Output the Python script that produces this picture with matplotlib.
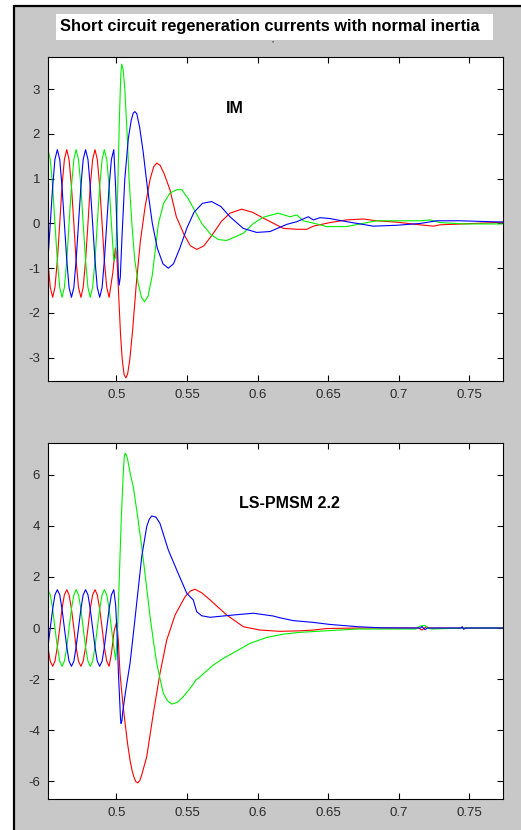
import matplotlib
matplotlib.use('Agg')
import matplotlib.pyplot as plt
from matplotlib.patches import Rectangle

plt.rcParams['font.family'] = ['Liberation Sans', 'DejaVu Sans']
plt.rcParams['axes.unicode_minus'] = False

titleText = 'Short circuit regeneration currents with normal inertia'
panelLabels = ['IM', 'LS-PMSM 2.2']
xTicks = [0.5, 0.55, 0.6, 0.65, 0.7, 0.75]
xTickLabels = ['0.5', '0.55', '0.6', '0.65', '0.7', '0.75']
imYTicks = [-3, -2, -1, 0, 1, 2, 3]
pmsmYTicks = [-6, -4, -2, 0, 2, 4, 6]

# steady state before the fault, read every 1/12 of a 50 Hz period
preTimes = [0.4515, 0.4532, 0.4549, 0.4565, 0.4582, 0.4599, 0.4615, 0.4632, 0.4649, 0.4665,
            0.4682, 0.4699, 0.4715, 0.4732, 0.4749, 0.4765, 0.4782, 0.4799, 0.4815, 0.4832,
            0.4849, 0.4865, 0.4882, 0.4899, 0.4915, 0.4932, 0.4949, 0.4965, 0.4982]

# ---- IM ----
imRedPre = [-0.83, -1.43, -1.65, -1.43, -0.83, 0, 0.83, 1.43, 1.65, 1.43, 0.83, 0,
            -0.83, -1.43, -1.65, -1.43, -0.83, 0, 0.83, 1.43, 1.65, 1.43, 0.83, 0,
            -0.83, -1.43, -1.65]
imGreenPre = [1.65, 1.43, 0.83, 0, -0.83, -1.43, -1.65, -1.43, -0.83, 0, 0.83, 1.43,
              1.65, 1.43, 0.83, 0, -0.83, -1.43, -1.65, -1.43, -0.83, 0, 0.83, 1.43,
              1.65, 1.43, 0.83, 0, -0.83]
imBluePre = [-0.83, 0, 0.83, 1.43, 1.65, 1.43, 0.83, 0, -0.83, -1.43, -1.65, -1.43,
             -0.83, 0, 0.83, 1.43, 1.65, 1.43, 0.83, 0, -0.83, -1.43, -1.65, -1.43,
             -0.83, 0, 0.83, 1.43, 1.65]

imRedPostTime = [0.4975, 0.4993, 0.5003, 0.5015, 0.503, 0.5042, 0.5055, 0.5068, 0.508, 0.5095,
                 0.5115, 0.514, 0.517, 0.5205, 0.524, 0.5265, 0.5286, 0.531, 0.534, 0.538,
                 0.5425, 0.548, 0.5525, 0.557, 0.562, 0.568, 0.5745, 0.5805, 0.5888, 0.5965,
                 0.6041, 0.6183, 0.6278, 0.6349, 0.6395, 0.6513, 0.6632, 0.675, 0.6844, 0.6986,
                 0.7151, 0.7245, 0.7293, 0.7458, 0.775]
imRedPost = [-1.1, -0.55, -0.7, -1.5, -2.5, -3.05, -3.38, -3.45, -3.36, -3.05,
             -2.4, -1.4, -0.4, 0.4, 1.0, 1.27, 1.35, 1.3, 1.1, 0.75,
             0.15, -0.25, -0.5, -0.58, -0.5, -0.25, 0.05, 0.23, 0.32, 0.25,
             0.12, -0.11, -0.13, -0.13, -0.06, 0.02, 0.08, 0.1, 0.06, 0.03,
             -0.03, -0.06, -0.03, -0.01, 0.03]

imGreenPostTime = [0.4996, 0.501, 0.5022, 0.5032, 0.5038, 0.5048, 0.506, 0.5075, 0.509, 0.511,
                   0.513, 0.5155, 0.5178, 0.52, 0.5225, 0.5255, 0.5298, 0.5335, 0.538, 0.5425,
                   0.5463, 0.551, 0.5605, 0.567, 0.5725, 0.578, 0.5805, 0.5899, 0.597, 0.6041,
                   0.6147, 0.623, 0.6278, 0.6324, 0.6419, 0.649, 0.6632, 0.6726, 0.6844, 0.7151,
                   0.7222, 0.7293, 0.7458, 0.775]
imGreenPost = [-0.75, 0.8, 2.4, 3.35, 3.56, 3.45, 3.0, 2.1, 1.0, 0.0,
               -0.8, -1.35, -1.65, -1.75, -1.62, -1.15, 0.0, 0.45, 0.68, 0.75,
               0.76, 0.55, 0.0, -0.25, -0.36, -0.38, -0.35, -0.22, 0.0, 0.14,
               0.23, 0.15, 0.19, 0.06, -0.01, -0.07, -0.07, -0.01, 0.06, 0.06,
               0.08, 0.02, -0.01, -0.01]

imBluePostTime = [0.4995, 0.5008, 0.5015, 0.502, 0.5028, 0.504, 0.506, 0.5085, 0.5105, 0.512,
                  0.5132, 0.5145, 0.5165, 0.519, 0.522, 0.5255, 0.529, 0.533, 0.5368, 0.5405,
                  0.545, 0.55, 0.555, 0.561, 0.5675, 0.574, 0.5805, 0.5899, 0.5994, 0.6089,
                  0.6207, 0.6278, 0.636, 0.6395, 0.6443, 0.6513, 0.6632, 0.682, 0.6986, 0.7151,
                  0.7269, 0.7434, 0.775]
imBluePost = [0.8, -0.5, -1.2, -1.38, -1.2, -0.3, 1.0, 1.9, 2.3, 2.47,
              2.5, 2.45, 2.15, 1.6, 0.8, 0.0, -0.55, -0.9, -1.0, -0.9,
              -0.55, -0.1, 0.25, 0.45, 0.49, 0.38, 0.15, -0.11, -0.2, -0.18,
              -0.02, 0.04, 0.15, 0.08, 0.13, 0.11, 0.04, -0.06, -0.04, 0.0,
              0.06, 0.06, 0.03]

# ---- LS-PMSM 2.2 ----
pmsmRedPre = [-0.75, -1.3, -1.5, -1.3, -0.75, 0, 0.75, 1.3, 1.5, 1.3, 0.75, 0,
              -0.75, -1.3, -1.5, -1.3, -0.75, 0, 0.75, 1.3, 1.5, 1.3, 0.75, 0,
              -0.75, -1.3, -1.5]
pmsmGreenPre = [1.5, 1.3, 0.75, 0, -0.75, -1.3, -1.5, -1.3, -0.75, 0, 0.75, 1.3,
                1.5, 1.3, 0.75, 0, -0.75, -1.3, -1.5, -1.3, -0.75, 0, 0.75, 1.3,
                1.5, 1.3, 0.75, 0, -0.75]
pmsmBluePre = [-0.75, 0, 0.75, 1.3, 1.5, 1.3, 0.75, 0, -0.75, -1.3, -1.5, -1.3,
               -0.75, 0, 0.75, 1.3, 1.5, 1.3, 0.75, 0, -0.75, -1.3, -1.5, -1.3,
               -0.75, 0, 0.75, 1.3, 1.5]

pmsmRedPostTime = [0.4965, 0.4985, 0.5003, 0.5014, 0.5026, 0.5045, 0.5062, 0.508, 0.5097, 0.5112,
                   0.5125, 0.5138, 0.5152, 0.5166, 0.518, 0.5215, 0.5262, 0.5309, 0.5357, 0.5416,
                   0.5487, 0.5525, 0.5557, 0.5605, 0.5664, 0.5782, 0.59, 0.6018, 0.6159, 0.630,
                   0.6395, 0.649, 0.6714, 0.714, 0.7165, 0.7195, 0.722, 0.775]
pmsmRedPost = [-1.0, -0.1, 0.25, -0.47, -1.78, -2.9, -3.73, -4.55, -5.18, -5.6,
               -5.85, -6.02, -6.07, -5.98, -5.75, -5.05, -3.35, -1.78, -0.47, 0.51,
               1.23, 1.45, 1.52, 1.38, 1.1, 0.51, 0.05, -0.08, -0.13, -0.11,
               -0.08, -0.02, 0.0, 0.0, -0.08, 0.05, 0.0, 0.0]

pmsmGreenPostTime = [0.4996, 0.5008, 0.502, 0.5035, 0.505, 0.5056, 0.5062, 0.507, 0.508, 0.51,
                     0.512, 0.515, 0.518, 0.521, 0.5239, 0.5265, 0.5286, 0.531, 0.5333, 0.5362,
                     0.5392, 0.543, 0.5474, 0.551, 0.5545, 0.5565, 0.5581, 0.563, 0.5687, 0.5755,
                     0.5829, 0.5947, 0.6065, 0.6183, 0.630, 0.6513, 0.6714, 0.6939, 0.712, 0.7155,
                     0.7185, 0.7215, 0.724, 0.745, 0.775]
pmsmGreenPost = [-1.25, -0.2, 1.8, 4.3, 6.2, 6.7, 6.85, 6.8, 6.6, 6.0,
                 5.54, 4.4, 3.19, 1.8, 0.44, -0.6, -1.38, -2.0, -2.56, -2.85,
                 -2.98, -2.92, -2.69, -2.45, -2.2, -2.02, -1.97, -1.72, -1.45, -1.2,
                 -0.97, -0.6, -0.37, -0.24, -0.17, -0.1, -0.04, -0.04, -0.04, 0.08,
                 0.1, -0.02, -0.04, 0.0, 0.0]

pmsmBluePostTime = [0.4995, 0.5005, 0.5015, 0.5025, 0.5029, 0.5033, 0.5039, 0.5045, 0.5065, 0.5097,
                    0.5125, 0.5144, 0.518, 0.5215, 0.5232, 0.525, 0.528, 0.5309, 0.5368, 0.5428,
                    0.5499, 0.5545, 0.5569, 0.5605, 0.5664, 0.5829, 0.597, 0.6112, 0.6159, 0.6254,
                    0.6395, 0.6513, 0.6714, 0.6868, 0.7155, 0.7165, 0.7185, 0.7205, 0.744, 0.745,
                    0.746, 0.7475, 0.775]
pmsmBluePost = [0.9, -0.2, -1.8, -3.0, -3.5, -3.74, -3.65, -3.3, -2.5, -1.38,
                0.0, 0.97, 2.8, 3.97, 4.25, 4.39, 4.35, 4.1, 3.06, 2.27,
                1.36, 1.1, 0.64, 0.48, 0.42, 0.51, 0.58, 0.47, 0.4, 0.29,
                0.22, 0.14, 0.05, 0.01, 0.0, 0.06, -0.06, 0.0, 0.0, 0.05,
                -0.05, 0.0, 0.0]


def drawPhases(ax, redTime, red, greenTime, green, blueTime, blue):
    ax.plot(redTime, red, color='#ff0000', lw=0.8)
    ax.plot(greenTime, green, color='#00f000', lw=0.8)
    ax.plot(blueTime, blue, color='#0000ff', lw=0.8)


def styleAxes(ax, yTicks, yLim):
    ax.set_xlim(0.4518, 0.7739)
    ax.set_ylim(*yLim)
    ax.set_xticks(xTicks)
    ax.set_xticklabels(xTickLabels)
    ax.set_yticks(yTicks)
    ax.tick_params(direction='in', length=4, width=0.8, top=True, right=True,
                   labelsize=9.5, labelcolor='#2a2a2a', pad=6)
    for spine in ax.spines.values():
        spine.set_linewidth(0.8)
        spine.set_color('black')


def main():
    figure = plt.figure(figsize=(5.21, 8.30), dpi=100, facecolor='white')
    background = Rectangle((14 / 521, -0.01), 1.0, 1 - 6 / 830 + 0.01,
                           transform=figure.transFigure, facecolor='#c8c8c8',
                           edgecolor='black', linewidth=1.6, zorder=-5)
    figure.add_artist(background)
    titleBox = Rectangle((56 / 521, 1 - 40 / 830), 437 / 521, 26 / 830,
                         transform=figure.transFigure, facecolor='white',
                         edgecolor='none', zorder=-4)
    figure.add_artist(titleBox)
    figure.text(270 / 521, 1 - 27 / 830, titleText, ha='center', va='center',
                fontsize=11.8, fontweight='bold', color='black')
    figure.text(273 / 521, 1 - 44 / 830, "''", ha='center', va='center', fontsize=6, color='#444444')

    axIM = figure.add_axes([48.3 / 521, 1 - 381 / 830, 454.7 / 521, 324 / 830])
    drawPhases(axIM, preTimes[:27] + imRedPostTime, imRedPre + imRedPost,
               preTimes + imGreenPostTime, imGreenPre + imGreenPost,
               preTimes + imBluePostTime, imBluePre + imBluePost)
    styleAxes(axIM, imYTicks, (-3.52, 3.72))
    axIM.text(0.5841, 2.58, panelLabels[0], ha='center', va='center', fontsize=11.5, fontweight='bold')

    axPMSM = figure.add_axes([48.3 / 521, 1 - 799 / 830, 454.7 / 521, 356 / 830])
    drawPhases(axPMSM, preTimes[:27] + pmsmRedPostTime, pmsmRedPre + pmsmRedPost,
               preTimes + pmsmGreenPostTime, pmsmGreenPre + pmsmGreenPost,
               preTimes + pmsmBluePostTime, pmsmBluePre + pmsmBluePost)
    styleAxes(axPMSM, pmsmYTicks, (-6.7, 7.25))
    axPMSM.text(0.6229, 4.86, panelLabels[1], ha='center', va='center', fontsize=11.5, fontweight='bold')

    figure.savefig('out.png', dpi=100, facecolor=figure.get_facecolor())


if __name__ == '__main__':
    main()
